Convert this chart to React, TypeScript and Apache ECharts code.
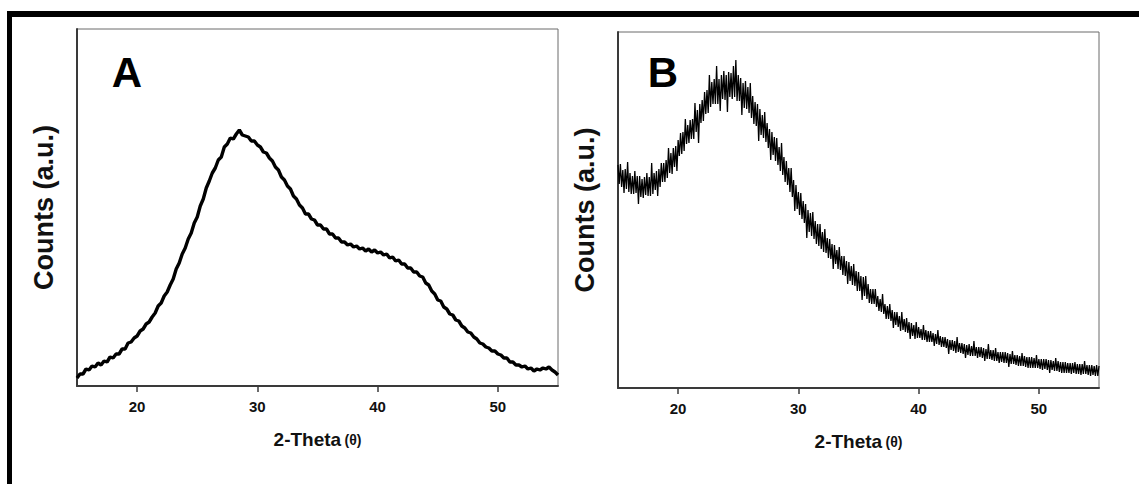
import React, { useEffect, useRef } from "react";
import * as echarts from "echarts";

// ---- data ----
// Panel A: 2-theta sampled from 15 to 55 every 0.25 degree
const thetaStartA = 15;
const thetaStepA = 0.25;
const countsA = [
  8, 12, 12, 17, 16,
  20, 19, 23, 21,
  25, 24, 29, 28, 32, 32,
  37, 37, 43, 44, 48,
  50, 55, 57, 62, 64, 69,
  73, 80, 83, 90, 94,
  101, 107, 117, 123, 132,
  138, 147, 153, 163,
  169, 180, 187, 198, 205,
  213, 218, 226,
  229, 239, 242,
  248, 247, 252, 256,
  251, 250, 249, 245, 245,
  241, 239, 234, 233, 228,
  225, 219, 216, 209, 206,
  200, 197, 190, 187, 181, 178,
  172, 172, 167, 166, 161,
  161, 157, 157, 152, 152, 148, 148, 144,
  144, 141, 142, 139, 140, 137,
  138, 135, 137, 134, 136,
  133, 134, 131, 132, 128, 129,
  125, 126, 122, 122, 118,
  118, 114, 114, 110, 109,
  103, 101, 95, 92,
  86, 85, 79, 77, 72,
  71, 66, 65, 60, 58,
  54, 53, 49, 47, 43, 42,
  39, 38, 35, 35, 32,
  31, 28, 28, 24, 24, 21,
  21, 19, 20, 17, 18, 15,
  17, 16, 18, 17, 19,
  16, 14, 11,
];

// Panel B: 2-theta sampled from 15 to 55 every 0.1 degree (one row per degree)
const thetaStartB = 15;
const thetaStepB = 0.1;
const countsB = [
  223, 204, 224, 201, 218, 195, 219, 199, 226, 196, // 15
  215, 194, 212, 194, 217, 195, 212, 184, 212, 191, // 16
  209, 190, 211, 193, 215, 192, 211, 192, 225, 194, // 17
  215, 198, 217, 192, 219, 201, 225, 206, 225, 206, // 18
  228, 210, 240, 215, 235, 214, 240, 221, 242, 217, // 19
  248, 232, 255, 234, 256, 237, 269, 244, 263, 245, // 20
  268, 249, 269, 249, 285, 256, 278, 245, 284, 265, // 21
  288, 267, 296, 274, 298, 275, 313, 281, 306, 284, // 22
  309, 284, 322, 284, 309, 277, 313, 289, 317, 288, // 23
  313, 276, 316, 291, 315, 289, 322, 291, 328, 287, // 24
  313, 287, 310, 273, 305, 280, 307, 279, 301, 275, // 25
  305, 270, 292, 264, 286, 262, 284, 247, 279, 253, // 26
  273, 250, 276, 246, 265, 240, 259, 228, 256, 233, // 27
  251, 227, 250, 223, 241, 217, 245, 213, 231, 206, // 28
  227, 203, 220, 196, 220, 191, 208, 177, 203, 179, // 29
  196, 173, 195, 169, 187, 165, 184, 150, 178, 156, // 30
  175, 152, 176, 149, 167, 144, 164, 142, 164, 139, // 31
  156, 136, 159, 135, 150, 130, 149, 129, 144, 119, // 32
  143, 124, 138, 119, 141, 118, 132, 113, 132, 112, // 33
  127, 104, 126, 107, 122, 103, 124, 102, 117, 97, // 34
  116, 97, 112, 88, 111, 92, 112, 89, 104, 85, // 35
  99, 84, 99, 84, 99, 81, 92, 77, 89, 76, // 36
  94, 74, 84, 69, 82, 69, 84, 67, 78, 60, // 37
  76, 63, 76, 61, 72, 57, 76, 58, 69, 56, // 38
  70, 55, 66, 49, 65, 52, 63, 49, 66, 50, // 39
  61, 50, 59, 48, 63, 48, 58, 46, 57, 46, // 40
  57, 46, 55, 42, 54, 44, 58, 43, 52, 41, // 41
  51, 41, 51, 40, 49, 34, 48, 38, 48, 37, // 42
  47, 35, 51, 36, 45, 35, 45, 34, 44, 30, // 43
  43, 33, 44, 32, 42, 32, 47, 32, 41, 30, // 44
  41, 31, 41, 30, 40, 27, 39, 29, 44, 29, // 45
  38, 28, 38, 27, 40, 27, 36, 25, 36, 26, // 46
  36, 25, 36, 25, 35, 21, 34, 24, 37, 24, // 47
  33, 23, 33, 22, 32, 22, 35, 22, 32, 21, // 48
  31, 20, 31, 20, 31, 20, 30, 20, 33, 20, // 49
  29, 19, 29, 18, 29, 19, 29, 18, 28, 15, // 50
  28, 18, 27, 17, 30, 17, 27, 16, 26, 15, // 51
  26, 15, 26, 15, 25, 15, 25, 14, 25, 15, // 52
  26, 14, 24, 14, 24, 13, 24, 14, 27, 14, // 53
  23, 13, 23, 12, 23, 13, 22, 12, 23, 12, // 54
  22, // 55
];

const xTicks = [20, 30, 40, 50];
const xMin = 15;
const xMax = 55;
const panelLabels = ["A", "B"];
const xName = "2-Theta";
const xNameUnit = "(θ)";
const yName = "Counts (a.u.)";

const FONT = "'Liberation Sans', Arial, Helvetica, sans-serif";

function toPairs(start: number, step: number, vals: number[]) {
  return vals.map((v, i) => [Number((start + i * step).toFixed(3)), v]);
}

function makeX(gridIndex: number) {
  return {
    type: "value",
    gridIndex,
    min: xMin,
    max: xMax,
    splitLine: { show: false },
    axisLine: { show: true, lineStyle: { color: "#3a3a3a", width: 2 } },
    axisTick: {
      show: true,
      length: 6,
      customValues: xTicks,
      lineStyle: { color: "#3a3a3a", width: 1.5 },
    },
    axisLabel: {
      customValues: xTicks,
      color: "#111",
      fontFamily: FONT,
      fontSize: 15,
      fontWeight: "bold",
      margin: 13,
    },
    name: `{a|${xName}} {b|${xNameUnit}}`,
    nameLocation: "middle",
    nameGap: 44,
    nameTextStyle: {
      rich: {
        a: { fontSize: 19, fontWeight: "bold", fontFamily: FONT, color: "#111" },
        b: { fontSize: 14, fontWeight: "bold", fontFamily: FONT, color: "#111" },
      },
    },
  };
}

function makeY(gridIndex: number, max: number) {
  return {
    type: "value",
    gridIndex,
    min: 0,
    max,
    splitLine: { show: false },
    axisLine: { show: true, lineStyle: { color: "#3a3a3a", width: 2 } },
    axisTick: { show: false },
    axisLabel: { show: false },
    name: yName,
    nameLocation: "middle",
    nameRotate: 90,
    nameGap: 20,
    nameTextStyle: {
      fontFamily: FONT,
      fontSize: 27,
      fontWeight: "bold",
      color: "#111",
    },
  };
}

export default function App() {
  const ref = useRef<HTMLDivElement>(null);

  useEffect(() => {
    if (!ref.current) return;
    const chart = echarts.init(ref.current, undefined, { renderer: "svg" });
    chart.setOption({
      animation: false,
      backgroundColor: "#fff",
      grid: [
        { left: 77, top: 29, width: 481, height: 357, show: true, borderColor: "#6a6a6a", borderWidth: 1 },
        { left: 618, top: 32, width: 481, height: 356, show: true, borderColor: "#6a6a6a", borderWidth: 1 },
      ],
      xAxis: [makeX(0), makeX(1)],
      yAxis: [makeY(0, 357), makeY(1, 356)],
      series: [
        {
          type: "line",
          xAxisIndex: 0,
          yAxisIndex: 0,
          data: toPairs(thetaStartA, thetaStepA, countsA),
          showSymbol: false,
          lineStyle: { color: "#000", width: 3.4 },
        },
        {
          type: "line",
          xAxisIndex: 1,
          yAxisIndex: 1,
          data: toPairs(thetaStartB, thetaStepB, countsB),
          showSymbol: false,
          lineStyle: { color: "#000", width: 1.3 },
        },
      ],
      graphic: [
        { type: "rect", shape: { x: 7, y: 11, width: 1132, height: 6 }, style: { fill: "#000" } },
        { type: "rect", shape: { x: 7, y: 11, width: 5, height: 473 }, style: { fill: "#000" } },
        {
          type: "text",
          style: {
            text: panelLabels[0],
            x: 127,
            y: 72,
            fill: "#000",
            fontFamily: FONT,
            fontSize: 42,
            fontWeight: "bold",
            align: "center",
            verticalAlign: "middle",
          },
        },
        {
          type: "text",
          style: {
            text: panelLabels[1],
            x: 663,
            y: 72,
            fill: "#000",
            fontFamily: FONT,
            fontSize: 42,
            fontWeight: "bold",
            align: "center",
            verticalAlign: "middle",
          },
        },
      ],
    });
    return () => chart.dispose();
  }, []);

  return (
    <div
      ref={ref}
      style={{ position: "absolute", left: 0, top: 0, width: 1139, height: 484 }}
    />
  );
}
